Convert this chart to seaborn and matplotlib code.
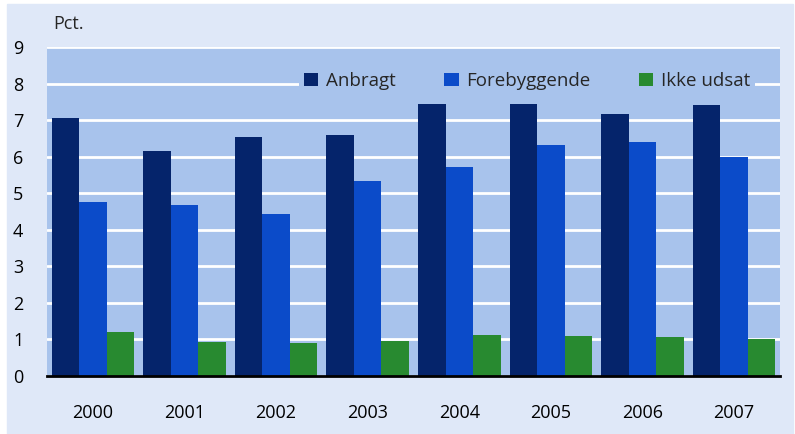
import pandas as pd
import numpy as np
import matplotlib
matplotlib.use("Agg")
import matplotlib.pyplot as plt
import seaborn as sns
from matplotlib.patches import Rectangle

years = ["2000", "2001", "2002", "2003", "2004", "2005", "2006", "2007"]
anbragt = [7.05, 6.16, 6.55, 6.58, 7.43, 7.43, 7.18, 7.40]
forebyggende = [4.75, 4.69, 4.42, 5.34, 5.73, 6.31, 6.39, 5.98]
ikke_udsat = [1.19, 0.93, 0.90, 0.96, 1.12, 1.09, 1.07, 1.01]
series = ["Anbragt", "Forebyggende", "Ikke udsat"]
colors = ["#05246b", "#0b4bc9", "#288a30"]

df = pd.DataFrame({"år": years, "Anbragt": anbragt,
                   "Forebyggende": forebyggende, "Ikke udsat": ikke_udsat})
long = df.melt(id_vars="år", var_name="gruppe", value_name="pct")

sns.set_style("white")
plt.rcParams["font.family"] = ["Open Sans", "DejaVu Sans"]

fig = plt.figure(figsize=(7.95, 4.34), dpi=100, facecolor="white")
# light blue panel behind the chart
fig.patches.append(Rectangle((7 / 795, 0), (793 - 7) / 795, 1 - 4 / 434,
                             transform=fig.transFigure, color="#dfe8f8", zorder=-5))
ax = fig.add_axes([47 / 795, 58 / 434, 733 / 795, 329 / 434])
ax.set_facecolor("#a8c3ec")

sns.barplot(data=long, x="år", y="pct", hue="gruppe", hue_order=series,
            palette=colors, width=0.9, saturation=1, gap=0, ax=ax, zorder=3,
            linewidth=0, edgecolor="none")

ax.set_ylim(0, 9)
ax.set_xlim(-0.5, 7.5)
ax.set_yticks(range(0, 10))
ax.yaxis.grid(True, color="white", linewidth=2)
ax.set_axisbelow(True)
for s in ["top", "right", "left"]:
    ax.spines[s].set_visible(False)
ax.spines["bottom"].set_color("black")
ax.spines["bottom"].set_linewidth(2)
ax.spines["bottom"].set_zorder(5)
ax.tick_params(axis="both", length=0, labelsize=13, colors="black")
ax.tick_params(axis="y", pad=17)
ax.tick_params(axis="x", pad=20)
ax.set_xlabel("")
ax.set_ylabel("")
fig.text(53 / 795, 1 - 24 / 434, "Pct.", fontsize=13, va="center", ha="left")

leg = ax.legend(loc="center", bbox_to_anchor=(0.655, 1 - 34 / 329), ncol=3,
                fontsize=13.5, frameon=True, facecolor="#a8c3ec", edgecolor="none",
                framealpha=1, handlelength=0.75, handleheight=0.75,
                handletextpad=0.4, columnspacing=2.6, borderpad=0.3)
leg.set_zorder(6)

fig.savefig("out.png", dpi=100, facecolor=fig.get_facecolor())
